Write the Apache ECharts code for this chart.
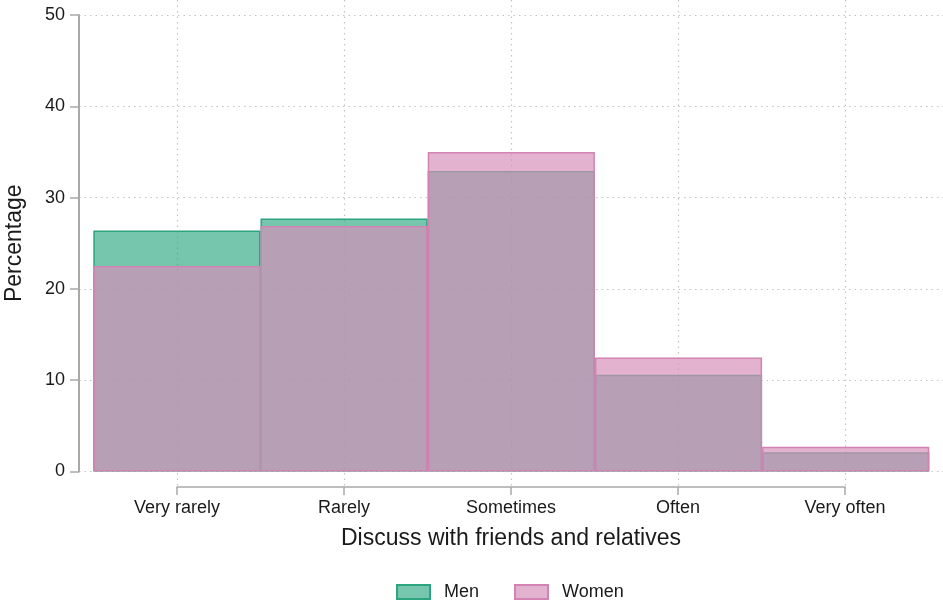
<!DOCTYPE html>
<html>
<head>
<meta charset="utf-8">
<script src="https://cdn.jsdelivr.net/npm/echarts@6/dist/echarts.min.js"></script>
<style>
html,body{margin:0;padding:0;background:#fff;}
#chart{width:943px;height:603px;}
</style>
</head>
<body>
<div id="chart"></div>
<script>
// ---- data ----
var categories = ['Very rarely', 'Rarely', 'Sometimes', 'Often', 'Very often'];
var men = [26.4, 27.7, 32.9, 10.6, 2.1];
var women = [22.5, 26.9, 35.0, 12.5, 2.7];
var yMin = 0, yMax = 50, yStep = 10;
var xTitle = 'Discuss with friends and relatives';
var yTitle = 'Percentage';
var seriesNames = ['Men', 'Women'];

// ---- styles ----
var FONT = '"Liberation Sans", Arial, Helvetica, sans-serif';
var TXT = '#1a1a1a';
var AXIS = '#a9a9a9';
var GRIDLINE = {show: true, lineStyle: {color: '#c4c4c4', width: 1.2, type: [1.5, 4]}};
var menStyle = {color: 'rgba(27,158,119,0.6)', borderColor: '#2aa57f', borderWidth: 1.5};
var womenStyle = {color: 'rgba(213,143,184,0.69)', borderColor: '#d283b4', borderWidth: 1.5};

var chart = echarts.init(document.getElementById('chart'), null, {renderer: 'canvas'});
chart.setOption({
  backgroundColor: '#ffffff',
  animation: false,
  textStyle: {fontFamily: FONT},
  grid: [
    {left: 79, right: 0, top: 15, bottom: 131.5, containLabel: false, outerBoundsMode: 'none'},
    {left: 177, right: 98, top: 0, bottom: 116, containLabel: false, outerBoundsMode: 'none'},
    {left: 93.3, right: 13.7, top: 15, bottom: 131.5, containLabel: false, outerBoundsMode: 'none'}
  ],
  xAxis: [
    {gridIndex: 0, type: 'value', min: 0, max: 1, show: false},
    {gridIndex: 1, type: 'category', data: categories, boundaryGap: false,
      axisLine: {show: true, lineStyle: {color: AXIS, width: 1.5}},
      axisTick: {show: true, length: 8, lineStyle: {color: AXIS, width: 1.5}},
      axisLabel: {color: TXT, fontSize: 18, fontFamily: FONT, margin: 12, interval: 0},
      splitLine: GRIDLINE,
      name: xTitle, nameLocation: 'middle', nameGap: 40,
      nameTextStyle: {color: TXT, fontSize: 23, fontFamily: FONT}
    },
    {gridIndex: 2, type: 'category', data: categories, boundaryGap: true, show: false}
  ],
  yAxis: [
    {gridIndex: 0, type: 'value', min: yMin, max: yMax, interval: yStep,
      axisLine: {show: true, lineStyle: {color: AXIS, width: 2}},
      axisTick: {show: true, length: 9, lineStyle: {color: AXIS, width: 1.5}},
      axisLabel: {color: TXT, fontSize: 18, fontFamily: FONT, margin: 14},
      splitLine: GRIDLINE,
      name: yTitle, nameLocation: 'middle', nameGap: 53, nameRotate: 90,
      nameTextStyle: {color: TXT, fontSize: 23, fontFamily: FONT}
    },
    {gridIndex: 1, type: 'value', min: 0, max: 1, show: false},
    {gridIndex: 2, type: 'value', min: yMin, max: yMax, interval: yStep, show: false}
  ],
  legend: {
    left: 396, top: 583, padding: 0,
    itemWidth: 33, itemHeight: 14, itemGap: 35,
    icon: 'rect',
    textStyle: {color: TXT, fontSize: 18, fontFamily: FONT, padding: [0, 0, 0, 9]},
    data: seriesNames
  },
  series: [
    {name: seriesNames[0], type: 'bar', xAxisIndex: 2, yAxisIndex: 2, data: men,
      barWidth: '100%', barGap: '-100%', itemStyle: menStyle, z: 3},
    {name: seriesNames[1], type: 'bar', xAxisIndex: 2, yAxisIndex: 2, data: women,
      barWidth: '100%', barGap: '-100%', itemStyle: womenStyle, z: 4}
  ]
});
</script>
</body>
</html>
